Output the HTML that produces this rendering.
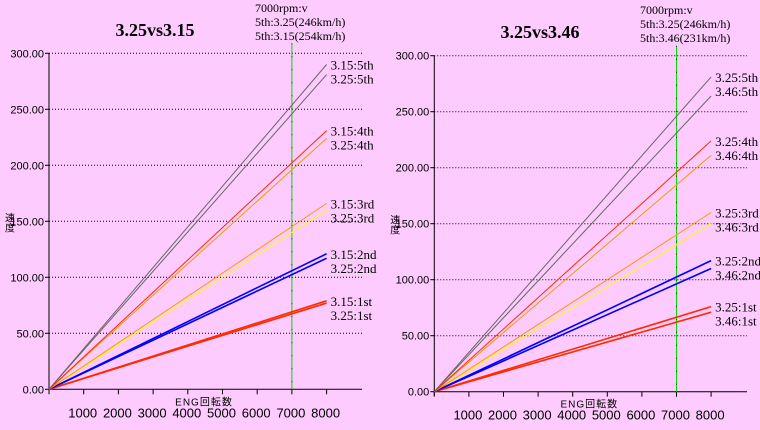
<!DOCTYPE html>
<html><head><meta charset="utf-8"><style>
body{margin:0;background:#fecbfe;}
svg{display:block;font-family:"Liberation Serif","Noto Serif CJK SC",serif;}
</style></head><body>
<svg id="c" width="760" height="430" viewBox="0 0 760 430"></svg>
<script>
const rpmTicks=[1000,2000,3000,4000,5000,6000,7000,8000];
const speedTicks=[0,50,100,150,200,250,300];
const gears=["1st","2nd","3rd","4th","5th"];
const leftRatioA="3.15", leftRatioB="3.25";
const leftA=[79,121,166,231,290];
const leftB=[77,117,160,224,281];
const rightRatioA="3.25", rightRatioB="3.46";
const rightA=[76,117,160,224,281];
const rightB=[71,110,150,211,264];
const colorsA=["#ff2a00","#0000ff","#ff9900","#ff2a00","#666666"];
const colorsB=["#ff2a00","#0000ff","#ffff00","#e8a000","#666666"];
const NS="http://www.w3.org/2000/svg";
const svg=document.getElementById('c');
function el(t,a,p){const e=document.createElementNS(NS,t);for(const k in a)e.setAttribute(k,a[k]);(p||svg).appendChild(e);return e;}
function chart(cfg){
 const g=el('g',{});
 
 
 const X=r=>cfg.x0+r/1000*cfg.px;
 const Y=v=>cfg.y0-v/50*cfg.py;
 speedTicks.forEach(v=>{
  if(v>0){const l=el('line',{x1:cfg.x0,x2:cfg.gx,y1:Y(v),y2:Y(v),stroke:'#000','stroke-dasharray':'1,2'},g);
  }
  el('line',{x1:cfg.x0-4,x2:cfg.x0,y1:Y(v),y2:Y(v),stroke:'#000'},g);
  const t=el('text',{x:cfg.x0-5,y:Y(v)+4,'text-anchor':'end','font-size':11,'font-family':'Liberation Sans,sans-serif'},g);
  t.textContent=v.toFixed(2);
  
 });
 el('line',{x1:cfg.x0,x2:cfg.x0,y1:Y(300),y2:cfg.y0+4,stroke:'#000'},g);
 el('line',{x1:cfg.x0,x2:cfg.gx,y1:cfg.y0,y2:cfg.y0,stroke:'#000'},g);
 el('line',{x1:cfg.x0,x2:cfg.x0,y1:cfg.y0,y2:cfg.y0+5,stroke:'#000'},g);
 rpmTicks.forEach(r=>{
  el('line',{x1:X(r),x2:X(r),y1:cfg.y0,y2:cfg.y0+5,stroke:'#000'},g);
  const t=el('text',{x:X(r)-1,y:cfg.y0+28,'text-anchor':'middle','font-size':13,'font-family':'Liberation Sans,sans-serif'},g);
  t.textContent=r;
  
 });
 const vl=el('line',{x1:X(7000),x2:X(7000),y1:Y(300)-10,y2:cfg.y0,stroke:'#00dd00'},g);
 
 el('line',{x1:X(7000),x2:X(7000),y1:Y(300)-10,y2:cfg.y0,stroke:'#000','stroke-dasharray':'1,12',opacity:0.7},g);
 [[cfg.b,colorsB,cfg.rb],[cfg.a,colorsA,cfg.ra]].forEach(([vals,cols,ratio])=>{
  vals.forEach((v,i)=>{
   const l=el('line',{x1:X(0),y1:Y(0),x2:X(8000),y2:Y(v),stroke:cols[i],'stroke-width':i<2?1.6:1},g);
   
  });
 });
 gears.forEach((gname,i)=>{
  const top=Math.min(Y(cfg.a[i]),Y(cfg.b[i]));
  const names=cfg.a[i]>=cfg.b[i]?[cfg.ra,cfg.rb]:[cfg.rb,cfg.ra];
  names.forEach((n,j)=>{
   const t=el('text',{x:X(8000)+4,y:top+5+j*14,'font-size':13},g);
   t.textContent=n+':'+gname;
   
  });
 });
 const tt=el('text',{x:cfg.tx,y:cfg.ty,'text-anchor':'middle','font-size':18,'font-weight':'bold'},g);
 tt.textContent=cfg.title;
 cfg.note.forEach((s,j)=>{const t=el('text',{x:cfg.nx,y:cfg.ny+j*14,'font-size':12},g);t.textContent=s;
  });
 const xl=el('text',{x:cfg.x0+155,y:cfg.y0+16,'text-anchor':'middle','font-size':10,'font-family':'Liberation Sans,Noto Sans CJK JP,sans-serif','letter-spacing':'1'},g);
 xl.textContent='ENG回転数';
 ['速','度'].forEach((c,j)=>{const t=el('text',{x:cfg.x0-44,y:cfg.y0-168+j*10,'font-size':10,'font-family':'Noto Sans CJK JP,sans-serif'},g);t.textContent=c;
  });
}
chart({name:'left-chart',x0:49,y0:389.3,px:34.7,py:56,gx:362,a:leftA,b:leftB,ra:leftRatioA,rb:leftRatioB,
 title:'3.25vs3.15',tx:155,ty:36,nx:255,ny:12,note:['7000rpm:v','5th:3.25(246km/h)','5th:3.15(254km/h)']});
chart({name:'right-chart',x0:434.3,y0:391.7,px:34.6,py:56,gx:747,a:rightA,b:rightB,ra:rightRatioA,rb:rightRatioB,
 title:'3.25vs3.46',tx:540,ty:38,nx:640,ny:14,note:['7000rpm:v','5th:3.25(246km/h)','5th:3.46(231km/h)']});
</script>
</body></html>
